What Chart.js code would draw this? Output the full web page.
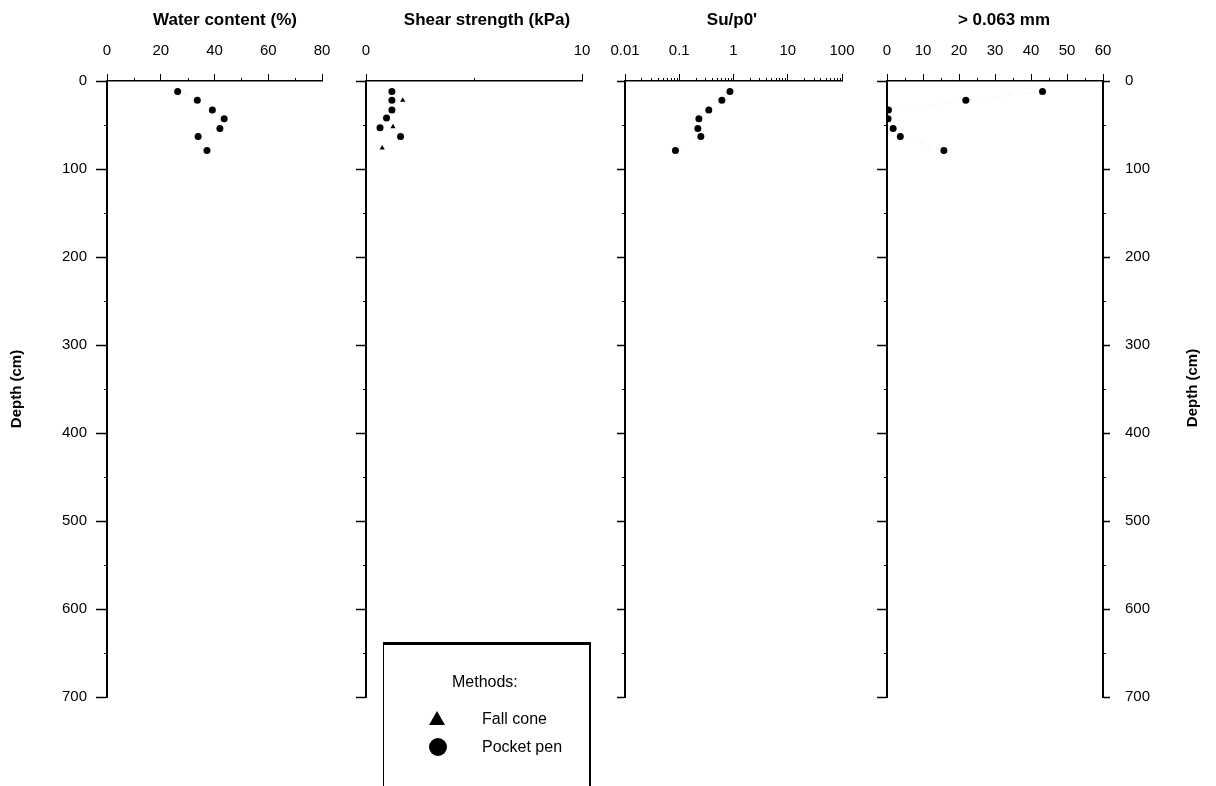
<!DOCTYPE html>
<html>
<head>
<meta charset="utf-8">
<script src="https://cdn.jsdelivr.net/npm/chart.js@4.4.0/dist/chart.umd.min.js"></script>
<style>
  html, body { margin: 0; background: #fff; }
  #wrap { position: relative; width: 1216px; height: 786px; overflow: hidden; }
  #wrap canvas { position: absolute; left: 0; top: 0; }
  #methods {
    position: absolute; left: 383px; top: 642px; width: 205px; height: 170px;
    border-top: 3px solid #000; border-left: 1px solid #000; border-right: 2px solid #000;
    font: 16px 'Liberation Sans', Arial, sans-serif; color: #000;
  }
  #methods .t { position: absolute; line-height: 20px; white-space: nowrap; }
  #methods .tri {
    position: absolute; width: 0; height: 0;
    border-left: 8px solid transparent; border-right: 8px solid transparent; border-bottom: 14px solid #000;
  }
  #methods .dot { position: absolute; width: 18px; height: 18px; border-radius: 50%; background: #000; }
</style>
</head>
<body>
<div id="wrap">
  <canvas id="c-water" width="1216" height="786"></canvas>
  <canvas id="c-shear" width="1216" height="786"></canvas>
  <canvas id="c-su" width="1216" height="786"></canvas>
  <canvas id="c-grain" width="1216" height="786"></canvas>
  <div id="methods">
    <div class="t" style="left:68px; top:27px;">Methods:</div>
    <div class="tri" style="left:45px; top:66px;"></div>
    <div class="t" style="left:98px; top:64px;">Fall cone</div>
    <div class="dot" style="left:45px; top:93px;"></div>
    <div class="t" style="left:98px; top:92px;">Pocket pen</div>
  </div>
</div>
<script>
// depth of each sample (cm) and the measured profiles
const sampleDepth = [12, 22, 33, 43, 54, 63, 79];
const waterContent = [26.3, 33.6, 39.2, 43.6, 42.0, 33.9, 37.2];
const pocketPenDepth = [12, 22, 33, 42, 53, 63];
const pocketPenShear = [1.2, 1.2, 1.2, 0.95, 0.65, 1.6];
const fallConeDepth = [22, 52, 76];
const fallConeShear = [1.7, 1.25, 0.75];
const suRatio = [0.86, 0.61, 0.35, 0.23, 0.22, 0.25, 0.085];
const coarseFraction = [43.2, 21.9, 0.4, 0.3, 1.7, 3.7, 15.8];

// axis ticks
const depthMinor = [50, 150, 250, 350, 450, 550, 650];
const waterMinor = [10, 30, 50, 70];
const shearMinor = [5];
const suTicks = [0.01, 0.1, 1, 10, 100];
const grainMinor = [5, 15, 25, 35, 45, 55];
const suMinor = [];
suTicks.slice(0, -1).forEach(d => { for (let k = 2; k <= 9; k++) suMinor.push(+(k * d).toPrecision(2)); });

Chart.defaults.font.family = "'Liberation Sans', Arial, sans-serif";
Chart.defaults.color = '#000';

// short unlabelled tick marks between the labelled ones
const minorTicks = {
  id: 'minorTicks',
  afterDraw(chart, args, opts) {
    const ctx = chart.ctx;
    ctx.save();
    ctx.strokeStyle = '#000';
    ctx.lineWidth = 1;
    (opts.sets || []).forEach(set => {
      const s = chart.scales[set.axis];
      set.values.forEach(v => {
        const p = Math.round(s.getPixelForValue(v)) + 0.5;
        ctx.beginPath();
        if (s.isHorizontal()) { ctx.moveTo(p, s.bottom); ctx.lineTo(p, s.bottom - set.len); }
        else if (s.position === 'left') { ctx.moveTo(s.right, p); ctx.lineTo(s.right - set.len, p); }
        else { ctx.moveTo(s.left, p); ctx.lineTo(s.left + set.len, p); }
        ctx.stroke();
      });
    });
    ctx.restore();
  }
};

// panel headings and the right-hand depth caption
const panelText = {
  id: 'panelText',
  afterDraw(chart, args, opts) {
    const ctx = chart.ctx;
    (opts.items || []).forEach(t => {
      ctx.save();
      ctx.font = t.font || "bold 17px 'Liberation Sans', Arial, sans-serif";
      ctx.fillStyle = '#000';
      ctx.textAlign = 'center';
      ctx.textBaseline = 'middle';
      ctx.translate(t.x, t.y);
      if (t.rotate) ctx.rotate(-Math.PI / 2);
      ctx.fillText(t.text, 0, 0);
      ctx.restore();
    });
  }
};
Chart.register(minorTicks, panelText);

function topAxis(extra) {
  return Object.assign({
    position: 'top',
    afterFit: s => { s.height = 81; },
    grid: { drawOnChartArea: false, drawTicks: true, tickLength: 7, tickColor: '#000', tickWidth: 1 },
    border: { display: true, color: '#000', width: 1.5 },
  }, extra);
}

function depthAxis(position, width, tickLen, labels, title) {
  return {
    type: 'linear', position: position, min: 0, max: 700, reverse: true,
    afterFit: s => { s.width = width; },
    ticks: { stepSize: 100, display: labels, padding: position === 'left' ? 9 : 15, font: { size: 15 } },
    grid: { drawOnChartArea: false, drawTicks: true, tickLength: tickLen, tickColor: '#000', tickWidth: 1.5 },
    border: { display: true, color: '#000', width: 2 },
    title: title ? { display: true, text: title, font: { size: 15, weight: 'bold' }, padding: { top: 4, bottom: 4 } } : { display: false },
  };
}

function pts(xs, ys) { return ys.map((y, i) => ({ x: xs[i], y: y })); }

function dots(data, line) {
  return {
    data: data, pointStyle: 'circle', pointRadius: 3.5,
    pointBackgroundColor: '#000', pointBorderColor: '#000', pointBorderWidth: 0,
    showLine: !!line, borderColor: '#d4d4d4', borderWidth: 1, borderDash: [1, 7],
  };
}

function panel(id, padding, scales, datasets, minor, text) {
  return new Chart(document.getElementById(id), {
    type: 'scatter',
    data: { datasets: datasets },
    options: {
      responsive: false, animation: false, devicePixelRatio: 1,
      layout: { padding: padding },
      scales: scales,
      plugins: {
        legend: { display: false }, tooltip: { enabled: false },
        minorTicks: { sets: minor }, panelText: { items: text },
      },
    },
  });
}

const tickFont = { size: 15 };

// Water content
panel('c-water', { left: 4, right: 894, top: 0, bottom: 89 }, {
  x: topAxis({ type: 'linear', min: 0, max: 80, ticks: { stepSize: 20, padding: 14, font: tickFont } }),
  y: depthAxis('left', 103, 11, true, 'Depth (cm)'),
}, [dots(pts(waterContent, sampleDepth), true)], [
  { axis: 'x', values: waterMinor, len: 3 },
  { axis: 'y', values: depthMinor, len: 3 },
], [{ text: 'Water content (%)', x: 225, y: 20 }]);

// Shear strength
panel('c-shear', { left: 346, right: 634, top: 0, bottom: 89 }, {
  x: topAxis({ type: 'linear', min: 0, max: 10, ticks: { stepSize: 10, padding: 14, font: tickFont } }),
  y: depthAxis('left', 20, 10, false),
}, [
  dots(pts(pocketPenShear, pocketPenDepth), false),
  { data: pts(fallConeShear, fallConeDepth), pointStyle: 'triangle', pointRadius: 3,
    pointBackgroundColor: '#000', pointBorderColor: '#000', pointBorderWidth: 0 },
], [
  { axis: 'x', values: shearMinor, len: 3 },
  { axis: 'y', values: depthMinor, len: 3 },
], [{ text: 'Shear strength (kPa)', x: 487, y: 20 }]);

// Su/p0'
panel('c-su', { left: 605, right: 374, top: 0, bottom: 89 }, {
  x: topAxis({ type: 'logarithmic', min: 0.01, max: 100,
    afterBuildTicks: s => { s.ticks = suTicks.map(v => ({ value: v })); },
    ticks: { padding: 14, font: tickFont, autoSkip: false, callback: v => String(v) } }),
  y: depthAxis('left', 20, 8, false),
}, [dots(pts(suRatio, sampleDepth), true)], [
  { axis: 'x', values: suMinor, len: 3 },
  { axis: 'y', values: depthMinor, len: 3 },
], [{ text: "Su/p0'", x: 732, y: 20 }]);

// Fraction coarser than 0.063 mm
panel('c-grain', { left: 867, right: 53, top: 0, bottom: 89 }, {
  x: topAxis({ type: 'linear', min: 0, max: 60, ticks: { stepSize: 10, padding: 14, font: tickFont } }),
  y: depthAxis('left', 20, 10, false),
  y2: depthAxis('right', 60, 7, true),
}, [dots(pts(coarseFraction, sampleDepth), true)], [
  { axis: 'x', values: grainMinor, len: 3 },
  { axis: 'y', values: depthMinor, len: 3 },
  { axis: 'y2', values: depthMinor, len: 3 },
], [
  { text: '> 0.063 mm', x: 1004, y: 20 },
  { text: 'Depth (cm)', x: 1193, y: 388, rotate: true, font: "bold 15px 'Liberation Sans', Arial, sans-serif" },
]);
</script>
</body>
</html>
